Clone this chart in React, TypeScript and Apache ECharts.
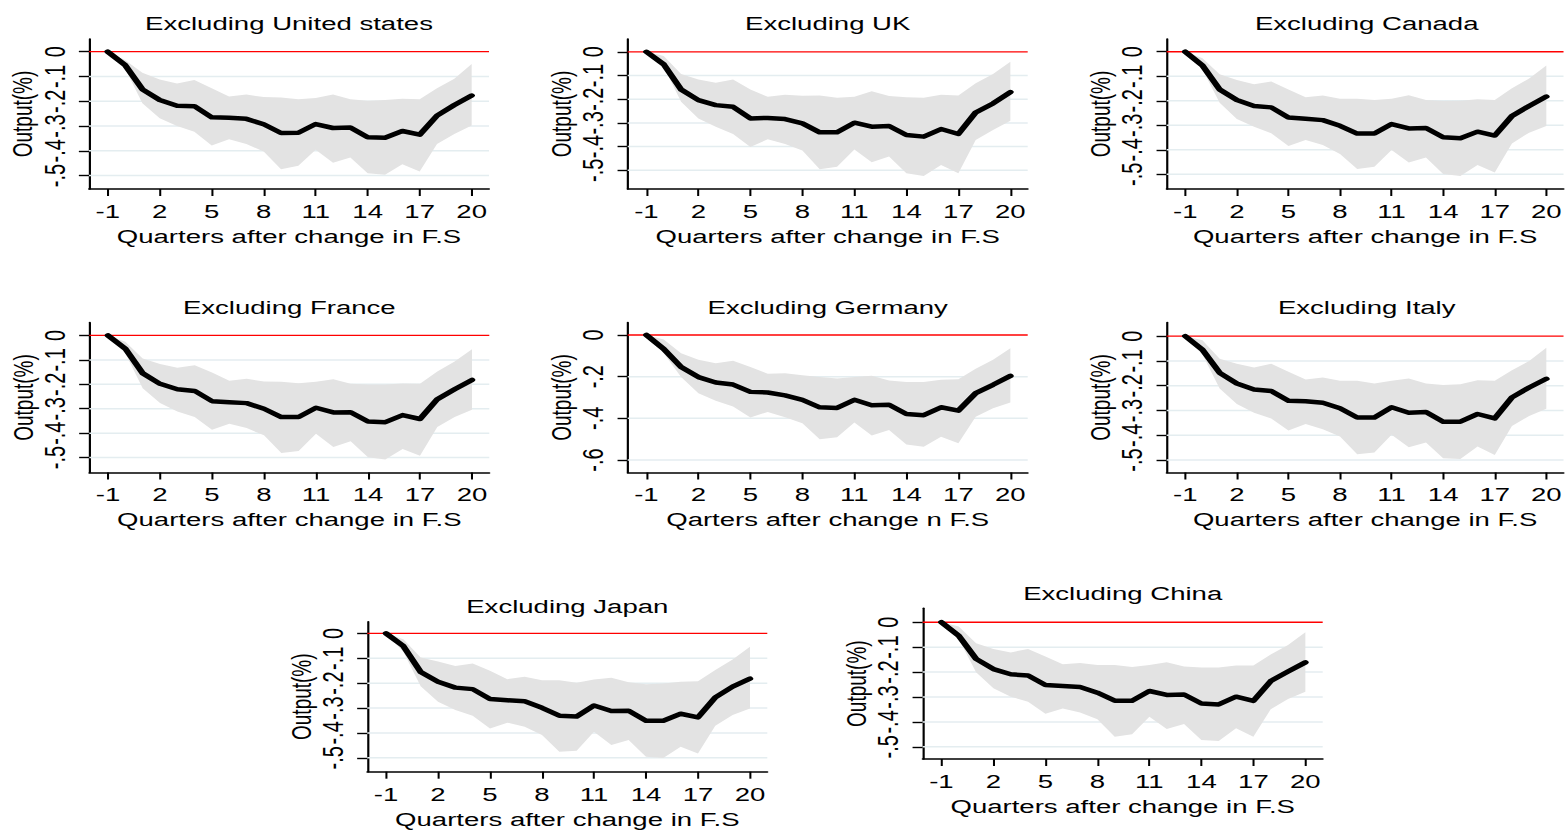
import React, { useEffect, useRef } from "react";
import * as echarts from "echarts";

// Quarters relative to the change in fiscal stance
const quarters = [-1, 0, 1, 2, 3, 4, 5, 6, 7, 8, 9, 10, 11, 12, 13, 14, 15, 16, 17, 18, 19, 20];
const xTicks = [-1, 2, 5, 8, 11, 14, 17, 20];

const titles = [
  "Excluding United states",
  "Excluding UK",
  "Excluding Canada",
  "Excluding France",
  "Excluding Germany",
  "Excluding Italy",
  "Excluding Japan",
  "Excluding China",
];

const xNames = [
  "Quarters after change in F.S",
  "Quarters after change in F.S",
  "Quarters after change in F.S",
  "Quarters after change in F.S",
  "Qarters after change n F.S",
  "Quarters after change in F.S",
  "Quarters after change in F.S",
  "Quarters after change in F.S",
];

const yTicksDefault = [0, -0.1, -0.2, -0.3, -0.4, -0.5];
const yTicksGermany = [0, -0.2, -0.4, -0.6];

// Impulse responses (point estimate) and confidence band bounds
const usLine = [0, -0.054, -0.152, -0.195, -0.218, -0.22, -0.265, -0.267, -0.271, -0.293, -0.328, -0.327, -0.292, -0.308, -0.306, -0.345, -0.347, -0.32, -0.335, -0.258, -0.215, -0.177];
const usUpper = [0, -0.034, -0.085, -0.112, -0.128, -0.114, -0.148, -0.181, -0.173, -0.183, -0.185, -0.192, -0.187, -0.173, -0.192, -0.198, -0.195, -0.19, -0.192, -0.148, -0.109, -0.05];
const usLower = [0, -0.067, -0.208, -0.269, -0.3, -0.323, -0.379, -0.353, -0.372, -0.403, -0.474, -0.46, -0.396, -0.448, -0.427, -0.49, -0.497, -0.454, -0.483, -0.372, -0.332, -0.298];

const ukLine = [0, -0.053, -0.159, -0.204, -0.225, -0.232, -0.281, -0.279, -0.284, -0.302, -0.34, -0.34, -0.299, -0.316, -0.313, -0.351, -0.358, -0.326, -0.347, -0.256, -0.218, -0.17];
const ukUpper = [0, -0.018, -0.094, -0.117, -0.131, -0.117, -0.159, -0.19, -0.181, -0.185, -0.184, -0.194, -0.19, -0.166, -0.187, -0.192, -0.194, -0.181, -0.184, -0.133, -0.094, -0.042];
const ukLower = [0, -0.063, -0.211, -0.281, -0.316, -0.347, -0.402, -0.369, -0.389, -0.417, -0.496, -0.485, -0.412, -0.466, -0.442, -0.513, -0.524, -0.478, -0.513, -0.372, -0.33, -0.291];

const caLine = [0, -0.056, -0.154, -0.197, -0.221, -0.227, -0.268, -0.273, -0.279, -0.302, -0.334, -0.334, -0.295, -0.313, -0.311, -0.349, -0.353, -0.326, -0.342, -0.262, -0.221, -0.183];
const caUpper = [0, -0.027, -0.092, -0.115, -0.133, -0.121, -0.154, -0.186, -0.179, -0.192, -0.192, -0.197, -0.192, -0.178, -0.197, -0.201, -0.2, -0.194, -0.197, -0.149, -0.109, -0.056];
const caLower = [0, -0.072, -0.208, -0.274, -0.306, -0.333, -0.385, -0.36, -0.38, -0.417, -0.478, -0.469, -0.401, -0.452, -0.431, -0.499, -0.507, -0.462, -0.493, -0.374, -0.33, -0.303];

const frLine = [0, -0.054, -0.155, -0.198, -0.22, -0.227, -0.269, -0.273, -0.277, -0.3, -0.334, -0.334, -0.296, -0.315, -0.314, -0.352, -0.355, -0.326, -0.342, -0.261, -0.22, -0.182];
const frUpper = [0, -0.026, -0.094, -0.117, -0.132, -0.122, -0.152, -0.185, -0.177, -0.189, -0.19, -0.196, -0.19, -0.179, -0.198, -0.201, -0.201, -0.197, -0.198, -0.148, -0.107, -0.056];
const frLower = [0, -0.073, -0.216, -0.277, -0.311, -0.334, -0.386, -0.361, -0.379, -0.409, -0.481, -0.473, -0.402, -0.457, -0.433, -0.499, -0.508, -0.465, -0.492, -0.375, -0.334, -0.304];

const deLine = [0, -0.067, -0.154, -0.202, -0.228, -0.238, -0.273, -0.276, -0.29, -0.311, -0.347, -0.35, -0.311, -0.337, -0.335, -0.379, -0.385, -0.347, -0.363, -0.279, -0.239, -0.196];
const deUpper = [0, -0.022, -0.087, -0.119, -0.135, -0.124, -0.154, -0.186, -0.183, -0.193, -0.202, -0.209, -0.202, -0.196, -0.218, -0.225, -0.225, -0.215, -0.212, -0.162, -0.119, -0.063];
const deLower = [0, -0.087, -0.202, -0.279, -0.316, -0.343, -0.396, -0.369, -0.395, -0.424, -0.5, -0.491, -0.42, -0.482, -0.456, -0.525, -0.536, -0.488, -0.52, -0.392, -0.351, -0.324];

const itLine = [0, -0.055, -0.148, -0.191, -0.215, -0.221, -0.261, -0.263, -0.269, -0.291, -0.328, -0.328, -0.287, -0.309, -0.306, -0.345, -0.345, -0.314, -0.332, -0.247, -0.207, -0.172];
const itUpper = [0, -0.017, -0.091, -0.111, -0.127, -0.111, -0.144, -0.175, -0.167, -0.18, -0.18, -0.191, -0.18, -0.171, -0.191, -0.197, -0.194, -0.178, -0.18, -0.138, -0.1, -0.047];
const itLower = [0, -0.074, -0.211, -0.274, -0.309, -0.332, -0.381, -0.354, -0.376, -0.405, -0.476, -0.469, -0.398, -0.448, -0.429, -0.493, -0.496, -0.445, -0.479, -0.362, -0.322, -0.293];

const jpLine = [0, -0.051, -0.155, -0.194, -0.218, -0.224, -0.264, -0.269, -0.273, -0.299, -0.331, -0.334, -0.29, -0.312, -0.311, -0.351, -0.351, -0.323, -0.338, -0.257, -0.214, -0.182];
const jpUpper = [0, -0.024, -0.097, -0.113, -0.131, -0.121, -0.15, -0.184, -0.174, -0.188, -0.188, -0.198, -0.185, -0.178, -0.196, -0.204, -0.201, -0.194, -0.192, -0.147, -0.105, -0.054];
const jpLower = [0, -0.074, -0.212, -0.275, -0.308, -0.331, -0.382, -0.359, -0.375, -0.408, -0.476, -0.472, -0.395, -0.449, -0.429, -0.496, -0.501, -0.456, -0.483, -0.371, -0.328, -0.302];

const cnLine = [0, -0.054, -0.147, -0.188, -0.209, -0.214, -0.252, -0.256, -0.26, -0.283, -0.315, -0.315, -0.276, -0.292, -0.29, -0.326, -0.33, -0.299, -0.316, -0.236, -0.198, -0.161];
const cnUpper = [0, -0.017, -0.084, -0.107, -0.121, -0.107, -0.138, -0.169, -0.164, -0.172, -0.172, -0.18, -0.172, -0.161, -0.178, -0.182, -0.182, -0.174, -0.174, -0.129, -0.091, -0.04];
const cnLower = [0, -0.067, -0.201, -0.265, -0.299, -0.319, -0.367, -0.346, -0.362, -0.389, -0.46, -0.45, -0.379, -0.429, -0.408, -0.473, -0.477, -0.426, -0.46, -0.349, -0.308, -0.279];

const lines = [usLine, ukLine, caLine, frLine, deLine, itLine, jpLine, cnLine];
const uppers = [usUpper, ukUpper, caUpper, frUpper, deUpper, itUpper, jpUpper, cnUpper];
const lowers = [usLower, ukLower, caLower, frLower, deLower, itLower, jpLower, cnLower];

// The whole figure is drawn in a narrower frame and widened horizontally.
const STRETCH = 1.45;
const PAGE_W = 1566;
const PAGE_H = 830;
const FONT = "'Liberation Sans', Arial, Helvetica, sans-serif";

// Panel plot regions in page pixels and value ranges of each y axis
const panels = [
  { left: 89, top: 39, h: 150, yMin: -0.554, yMax: 0.051 },
  { left: 627.7, top: 39, h: 150, yMin: -0.579, yMax: 0.054 },
  { left: 1166.7, top: 39, h: 150, yMin: -0.56, yMax: 0.052 },
  { left: 89.3, top: 322.5, h: 150, yMin: -0.561, yMax: 0.053 },
  { left: 627.7, top: 322.5, h: 150, yMin: -0.66, yMax: 0.06 },
  { left: 1166.7, top: 322.5, h: 150, yMin: -0.55, yMax: 0.055 },
  { left: 367.3, top: 621.7, h: 150, yMin: -0.556, yMax: 0.047 },
  { left: 922.7, top: 608.3, h: 150.7, yMin: -0.549, yMax: 0.056 },
];
const PANEL_W = 400;

function fmtTick(v: number): string {
  if (v === 0) return "0";
  const s = String(Math.abs(v)).replace(/^0/, "");
  return (v < 0 ? "-" : "") + s;
}

function buildOption() {
  const grid: any[] = [];
  const xAxis: any[] = [];
  const yAxis: any[] = [];
  const series: any[] = [];
  const graphic: any[] = [];

  panels.forEach((p, i) => {
    const left = p.left / STRETCH;
    const width = PANEL_W / STRETCH;
    const yTicks = i === 4 ? yTicksGermany : yTicksDefault;

    grid.push({ left, top: p.top, width, height: p.h });

    xAxis.push({
      type: "value",
      gridIndex: i,
      min: -2.08,
      max: 21,
      name: xNames[i],
      nameLocation: "middle",
      nameGap: 38,
      nameTextStyle: { fontSize: 19, color: "#000", fontFamily: FONT },
      axisLine: { onZero: false, lineStyle: { color: "#000", width: 1.5 } },
      axisTick: { customValues: xTicks, length: 7, lineStyle: { color: "#000", width: 1.4 } },
      axisLabel: {
        customValues: xTicks,
        margin: 13,
        fontSize: 19,
        color: "#000",
        fontFamily: FONT,
      },
      splitLine: { show: false },
    });

    yAxis.push({
      type: "value",
      gridIndex: i,
      min: p.yMin,
      max: p.yMax,
      name: "Output(%)",
      nameLocation: "middle",
      nameGap: 36,
      nameRotate: 90,
      nameTextStyle: { fontSize: 19, color: "#000", fontFamily: FONT },
      axisLine: { onZero: false, lineStyle: { color: "#000", width: 1.5 } },
      axisTick: { customValues: yTicks, length: 7, lineStyle: { color: "#000", width: 1.4 } },
      axisLabel: {
        customValues: yTicks,
        rotate: 90,
        margin: 14,
        fontSize: 20,
        color: "#000",
        fontFamily: FONT,
        formatter: fmtTick,
      },
      splitLine: { show: false },
    });

    const lo = lowers[i];
    const up = uppers[i];
    const ln = lines[i];
    const gridValues = yTicks.filter((v) => v !== 0);

    // background layer of the panel: light grid lines, the confidence band
    // (upper bound forward, lower bound back) and the red zero line
    series.push({
      type: "custom",
      xAxisIndex: i,
      yAxisIndex: i,
      silent: true,
      z: 2,
      data: quarters.map((q, k) => [q, up[k], lo[k]]),
      encode: { x: 0, y: [1, 2] },
      renderItem: (params: any, api: any) => {
        if (params.dataIndex !== 0) return null;
        const cs = params.coordSys;
        const x0 = cs.x;
        const x1 = cs.x + cs.width;
        const children: any[] = [];
        gridValues.forEach((v) => {
          const y = api.coord([0, v])[1];
          children.push({
            type: "line",
            shape: { x1: x0, y1: y, x2: x1, y2: y },
            style: { stroke: "#e4edf0", lineWidth: 1.5 },
          });
        });
        const pts: number[][] = [];
        for (let k = 0; k < quarters.length; k++) pts.push(api.coord([quarters[k], up[k]]));
        for (let k = quarters.length - 1; k >= 0; k--) pts.push(api.coord([quarters[k], lo[k]]));
        children.push({
          type: "polygon",
          shape: { points: pts },
          style: { fill: "#e3e3e3", stroke: "none" },
        });
        const yZero = api.coord([0, 0])[1];
        children.push({
          type: "line",
          shape: { x1: x0, y1: yZero, x2: x1, y2: yZero },
          style: { stroke: "#ff0000", lineWidth: 1.3 },
        });
        return { type: "group", children };
      },
    });

    // point estimate
    series.push({
      type: "line",
      xAxisIndex: i,
      yAxisIndex: i,
      data: quarters.map((q, k) => [q, ln[k]]),
      showSymbol: false,
      symbol: "none",
      lineStyle: { color: "#000", width: 4.5, join: "round", cap: "round" },
      silent: true,
      z: 4,
    });

    graphic.push({
      type: "text",
      x: left + width / 2,
      y: p.top - 15,
      silent: true,
      style: {
        text: titles[i],
        fill: "#000",
        fontSize: 19,
        fontFamily: FONT,
        align: "center",
        verticalAlign: "middle",
      },
    });
  });

  return {
    animation: false,
    backgroundColor: "#ffffff",
    textStyle: { fontFamily: FONT },
    grid,
    xAxis,
    yAxis,
    series,
    graphic,
  };
}

export default function App() {
  const ref = useRef<HTMLDivElement>(null);

  useEffect(() => {
    if (!ref.current) return;
    const chart = echarts.init(ref.current, undefined, { renderer: "svg" });
    chart.setOption(buildOption());
    return () => chart.dispose();
  }, []);

  return (
    <div
      style={{
        position: "absolute",
        left: 0,
        top: 0,
        width: PAGE_W,
        height: PAGE_H,
        overflow: "hidden",
        background: "#fff",
      }}
    >
      <div
        ref={ref}
        style={{
          width: PAGE_W / STRETCH,
          height: PAGE_H,
          transform: `scaleX(${STRETCH})`,
          transformOrigin: "0 0",
        }}
      />
    </div>
  );
}
